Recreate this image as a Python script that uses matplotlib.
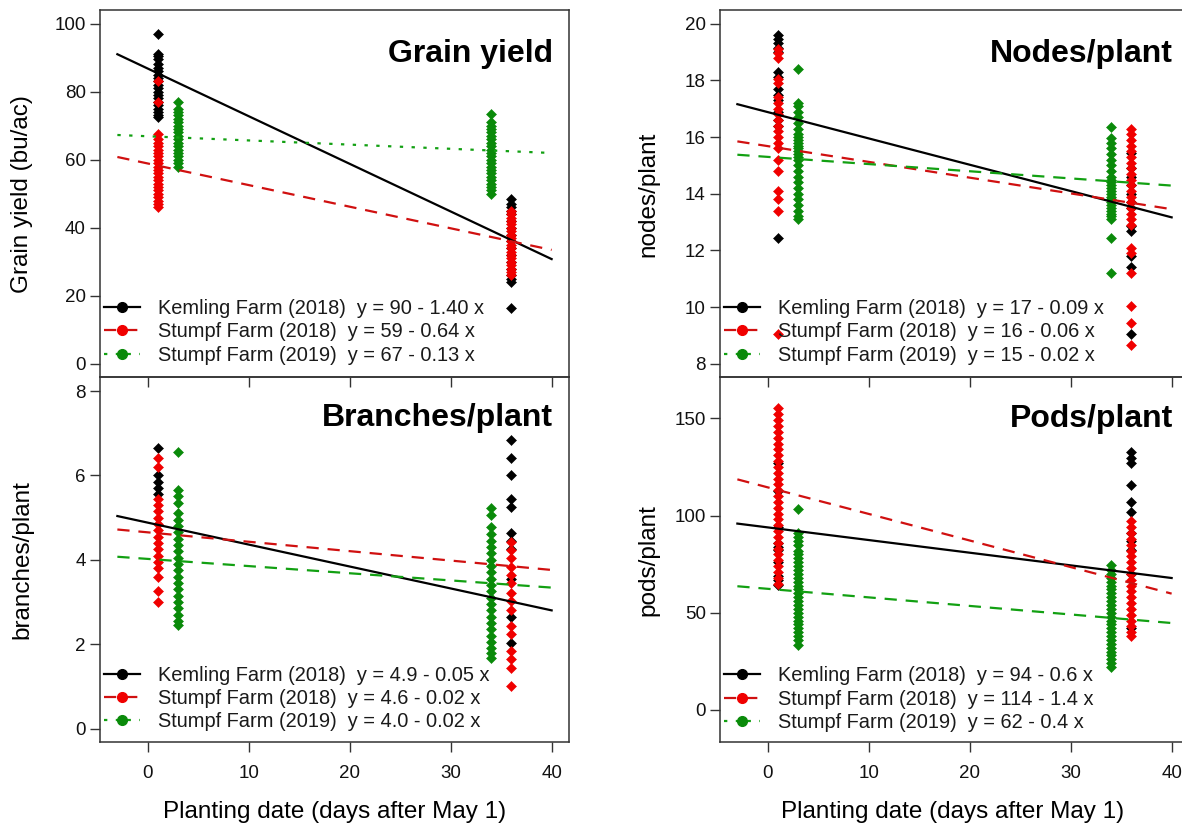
import numpy as np
import matplotlib
matplotlib.use("Agg")
import matplotlib.pyplot as plt
from matplotlib.lines import Line2D

plt.rcParams['font.family'] = ['Liberation Sans', 'DejaVu Sans']

# ---------------- data ----------------
kemling18_days = [1, 36]
stumpf18_days = [1, 36]
stumpf19_days = [3, 34]

# Grain yield (bu/ac)
yield_k18_d1 = [97, 91, 90.5, 89.5, 88, 87, 86, 85, 84, 83, 82, 81, 80, 79, 78, 77, 76, 75, 74, 73, 72.5]
yield_k18_d36 = [48.5, 47, 46, 45, 44, 42, 40, 38, 36, 34, 32, 30, 28, 26, 25, 24.2, 16.3]
yield_s18_d1 = [83, 77, 67.5, 66, 65, 64, 63, 62, 61, 60, 59, 58, 57, 56, 55, 54, 53, 52, 51, 50, 49, 48, 47, 46]
yield_s18_d36 = [45, 44, 43, 42, 41, 40, 39, 38, 37, 36, 35, 34, 33, 32, 31, 30, 29, 28, 27, 26]
yield_s19_d3 = [77, 75, 74, 73, 72, 71, 70, 69, 68, 67, 66, 65, 64, 63, 62, 61, 60, 59, 58]
yield_s19_d34 = [73.5, 71, 70, 69, 68, 67, 66, 65, 64, 63, 62, 61, 60, 59, 58, 57, 56, 55, 54, 53, 52, 51, 50]

# Nodes/plant
nodes_k18_d1 = [19.6, 19.45, 19.3, 19.15, 19.0, 18.3, 18.1, 17.7, 17.5, 17.3, 16.9, 16.6, 16.4, 12.45]
nodes_k18_d36 = [15.45, 14.9, 14.6, 14.3, 14.0, 13.7, 13.5, 12.85, 12.7, 11.8, 11.4, 9.05]
nodes_s18_d1 = [19.1, 18.95, 18.8, 18.05, 17.9, 17.4, 17.2, 17.0, 16.8, 16.6, 16.4, 16.2, 16.0, 15.8, 15.6,
                15.2, 14.8, 14.1, 13.8, 13.4, 9.05]
nodes_s18_d36 = [16.3, 16.1, 15.9, 15.7, 15.5, 15.3, 15.1, 14.9, 14.7, 14.5, 14.3, 14.1, 13.9, 13.7, 13.5,
                 13.3, 13.1, 12.9, 12.1, 11.9, 11.2, 10.05, 9.45, 8.65]
nodes_s19_d3 = [18.4, 17.2, 17.1, 16.9, 16.7, 16.5, 16.3, 16.1, 16.0, 15.9, 15.8, 15.7, 15.6, 15.5, 15.4, 15.3,
                15.2, 15.0, 14.8, 14.6, 14.4, 14.2, 14.0, 13.8, 13.6, 13.4, 13.2, 13.1]
nodes_s19_d34 = [16.35, 15.95, 15.8, 15.6, 15.4, 15.2, 15.0, 14.8, 14.6, 14.5, 14.4, 14.3, 14.2, 14.1, 14.0,
                 13.9, 13.8, 13.7, 13.6, 13.5, 13.4, 13.3, 13.2, 13.1, 12.45, 11.2]

# Branches/plant
branches_k18_d1 = [6.65, 6.0, 5.85, 5.7, 5.55]
branches_k18_d36 = [6.83, 6.41, 6.02, 5.43, 5.24, 4.63, 4.45, 4.26, 3.54, 2.64, 2.03]
branches_s18_d1 = [6.4, 6.2, 5.45, 5.3, 5.15, 5.0, 4.85, 4.7, 4.55, 4.4, 4.25, 4.1, 3.95, 3.8, 3.6, 3.25, 3.0]
branches_s18_d36 = [4.43, 4.24, 4.04, 3.84, 3.64, 3.45, 3.21, 3.02, 2.82, 2.43, 2.23, 1.84, 1.64, 1.44, 1.0]
branches_s19_d3 = [6.55, 5.65, 5.5, 5.35, 5.1, 4.95, 4.8, 4.65, 4.5, 4.35, 4.2, 4.05, 3.9, 3.75, 3.6, 3.45,
                   3.3, 3.15, 3.0, 2.85, 2.7, 2.55, 2.45]
branches_s19_d34 = [5.22, 5.05, 4.78, 4.6, 4.45, 4.3, 4.15, 4.0, 3.85, 3.7, 3.55, 3.4, 3.25, 3.1, 2.95, 2.8,
                    2.65, 2.5, 2.35, 2.2, 2.05, 1.9, 1.79, 1.67]

# Pods/plant
pods_k18_d1 = [127, 112.5, 94, 86, 84, 82.5, 76, 69, 67, 64.5]
pods_k18_d36 = [132.5, 129.5, 127, 115.5, 106.7, 102, 91, 86.8, 82.5, 70, 42]
pods_s18_d1 = [155.5, 152, 149, 146, 143, 140, 137, 134, 131, 128, 125, 122, 119, 116, 113, 110, 107, 104,
               101, 98, 95, 92, 89, 86, 83, 80, 77, 74, 71, 68, 65]
pods_s18_d36 = [97, 94, 91, 88, 85, 82, 79, 76, 73, 70, 67, 64, 61, 58, 55, 52, 49, 46, 43, 40, 37.8]
pods_s19_d3 = [103.5, 91, 89, 87, 85, 82, 80, 78, 76, 74, 72, 70, 68, 66, 64, 62, 60, 58, 56, 54, 52, 50,
               48, 46, 44, 42, 40, 38, 36, 33.5]
pods_s19_d34 = [74.7, 72, 70, 68, 66, 64, 62, 60, 58, 56, 54, 52, 50, 48, 46, 44, 42, 40, 38, 36, 34, 32,
                30, 28, 26, 24, 22.3]

# regression lines (intercept, slope) as drawn
yield_fits = [(86.8, -1.40), (58.9, -0.635), (66.9, -0.123)]
nodes_fits = [(16.88, -0.0928), (15.68, -0.0556), (15.3, -0.0253)]
branches_fits = [(4.88, -0.052), (4.65, -0.0223), (4.02, -0.017)]
pods_fits = [(93.9, -0.651), (114.5, -1.367), (62.3, -0.44)]
fit_x_range = [-3, 40]

series_names = ["Kemling Farm (2018)", "Stumpf Farm (2018)", "Stumpf Farm (2019)"]
yield_eqs = ["y = 90 - 1.40 x", "y = 59 - 0.64 x", "y = 67 - 0.13 x"]
nodes_eqs = ["y = 17 - 0.09 x", "y = 16 - 0.06 x", "y = 15 - 0.02 x"]
branches_eqs = ["y = 4.9 - 0.05 x", "y = 4.6 - 0.02 x", "y = 4.0 - 0.02 x"]
pods_eqs = ["y = 94 - 0.6 x", "y = 114 - 1.4 x", "y = 62 - 0.4 x"]

x_ticks = [0, 10, 20, 30, 40]
yield_ticks = [0, 20, 40, 60, 80, 100]
nodes_ticks = [8, 10, 12, 14, 16, 18, 20]
branches_ticks = [0, 2, 4, 6, 8]
pods_ticks = [0, 50, 100, 150]

# ---------------- style ----------------
pt_colors = ["#000000", "#F00000", "#0A8A0A"]
ln_colors = ["#000000", "#D01010", "#12A012"]
spine_c = "#333333"
LW = 1.6

fig = plt.figure(figsize=(11.82, 8.30), dpi=100)
fig.patch.set_facecolor("white")
FW, FH = 1182.0, 830.0

def fx(px):
    return px / FW

def fy(py):
    return 1 - py / FH

L0, R0, W = fx(100), fx(720), 469 / FW
top_b, top_h = fy(377.5), (377.5 - 10) / FH
bot_b, bot_h = fy(742), (742 - 377.5) / FH

ax_tl = fig.add_axes([L0, top_b, W, top_h])
ax_tr = fig.add_axes([R0, top_b, W, top_h])
ax_bl = fig.add_axes([L0, bot_b, W, bot_h])
ax_br = fig.add_axes([R0, bot_b, W, bot_h])
for a in (ax_tl, ax_tr):
    a.set_zorder(3)


def draw_panel(ax, cols, fits, eqs, ylim, yticks, title, green_style, is_top, title_y, leg_y):
    ax.set_facecolor("none")
    # points: Kemling, Stumpf 2018, Stumpf 2019
    for i, (days, vals_list) in enumerate(cols):
        for d, vals in zip(days, vals_list):
            ax.plot(np.full(len(vals), d), vals, linestyle="none", marker="D", ms=5.6,
                    color=pt_colors[i], mec=pt_colors[i], mew=0.4, zorder=2)
    xs = np.array(fit_x_range, dtype=float)
    styles = [dict(linestyle="-"), dict(linestyle=(0, (5.5, 4))), green_style]
    for i, (b0, b1) in enumerate(fits):
        ax.plot(xs, b0 + b1 * xs, color=ln_colors[i], lw=LW, zorder=3, **styles[i])
    ax.set_xlim(-4.72, 41.72)
    ax.set_ylim(*ylim)
    ax.set_yticks(yticks)
    ax.set_yticklabels([str(t) for t in yticks])
    ax.set_xticks(x_ticks)
    ax.set_xticklabels([str(t) for t in x_ticks])
    for s in ax.spines.values():
        s.set_color(spine_c)
        s.set_linewidth(1.1)
    ax.tick_params(axis="both", direction="out", length=7.2, width=1.0, color=spine_c,
                   labelsize=13.5, labelcolor="#111111")
    ax.tick_params(axis="y", pad=3)
    ax.tick_params(axis="x", pad=9)
    if is_top:
        ax.tick_params(axis="x", labelbottom=False)
    ax.text(0.966, title_y, title, transform=ax.transAxes, ha="right", va="baseline",
            fontsize=23, fontweight="bold", color="black", zorder=5)
    leg_styles = [dict(linestyle="-"), dict(linestyle=(0, (5.5, 4))), dict(linestyle=(0, (1.5, 3.8)))]
    handles = [Line2D([0], [0], color=ln_colors[i], lw=LW, marker="o", ms=7,
                      mfc=pt_colors[i], mec=pt_colors[i], **leg_styles[i]) for i in range(3)]
    labels = [f"{n}  {e}" for n, e in zip(series_names, eqs)]
    leg = ax.legend(handles, labels, loc="lower left", bbox_to_anchor=(0.0085, leg_y),
                    frameon=False, fontsize=14.4, handlelength=1.8, handletextpad=0.9,
                    labelspacing=0.22, borderpad=0.0, borderaxespad=0.0)
    for t in leg.get_texts():
        t.set_color("#1a1a1a")


draw_panel(ax_tl,
           [(kemling18_days, [yield_k18_d1, yield_k18_d36]),
            (stumpf18_days, [yield_s18_d1, yield_s18_d36]),
            (stumpf19_days, [yield_s19_d3, yield_s19_d34])],
           yield_fits, yield_eqs, (-4, 104), yield_ticks, "Grain yield",
           dict(linestyle=(0, (1.5, 3.8))), True, 0.859, 0.0346)
draw_panel(ax_tr,
           [(kemling18_days, [nodes_k18_d1, nodes_k18_d36]),
            (stumpf18_days, [nodes_s18_d1, nodes_s18_d36]),
            (stumpf19_days, [nodes_s19_d3, nodes_s19_d34])],
           nodes_fits, nodes_eqs, (7.52, 20.48), nodes_ticks, "Nodes/plant",
           dict(linestyle=(0, (5.5, 4))), True, 0.859, 0.0346)
draw_panel(ax_bl,
           [(kemling18_days, [branches_k18_d1, branches_k18_d36]),
            (stumpf18_days, [branches_s18_d1, branches_s18_d36]),
            (stumpf19_days, [branches_s19_d3, branches_s19_d34])],
           branches_fits, branches_eqs, (-0.32, 8.32), branches_ticks, "Branches/plant",
           dict(linestyle=(0, (5.5, 4))), False, 0.866, 0.029)
draw_panel(ax_br,
           [(kemling18_days, [pods_k18_d1, pods_k18_d36]),
            (stumpf18_days, [pods_s18_d1, pods_s18_d36]),
            (stumpf19_days, [pods_s19_d3, pods_s19_d34])],
           pods_fits, pods_eqs, (-16.5, 171), pods_ticks, "Pods/plant",
           dict(linestyle=(0, (5.5, 4))), False, 0.865, 0.027)

# axis labels
lab_fs = 17.5
fig.text(fx(22), fy(194), "Grain yield (bu/ac)", rotation=90, ha="center", va="center", fontsize=lab_fs)
fig.text(fx(22), fy(560), "branches/plant", rotation=90, ha="center", va="center", fontsize=lab_fs)
fig.text(fx(648), fy(194), "nodes/plant", rotation=90, ha="center", va="center", fontsize=lab_fs)
fig.text(fx(648), fy(560), "pods/plant", rotation=90, ha="center", va="center", fontsize=lab_fs)
fig.text(fx(335), fy(812), "Planting date (days after May 1)", ha="center", va="center", fontsize=lab_fs)
fig.text(fx(953), fy(812), "Planting date (days after May 1)", ha="center", va="center", fontsize=lab_fs)

fig.savefig("out.png", dpi=100, facecolor="white")
